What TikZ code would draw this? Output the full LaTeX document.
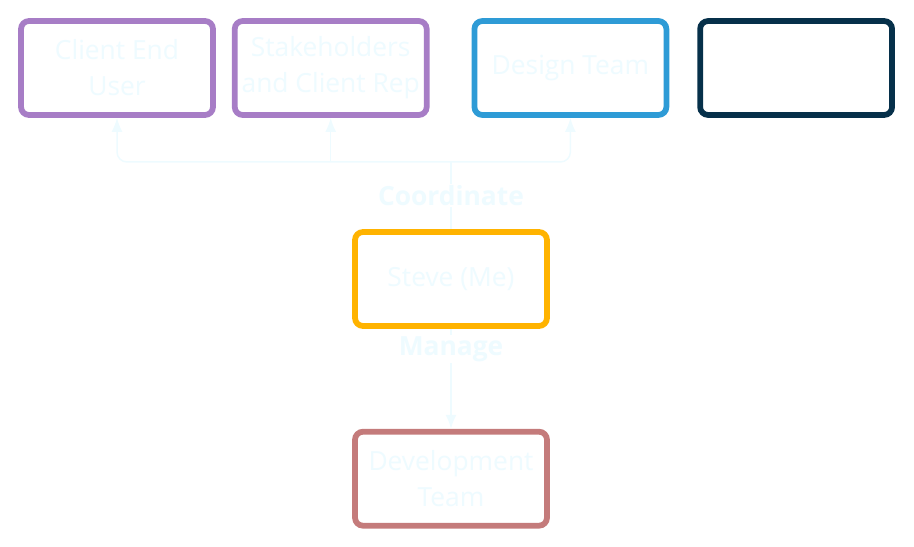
\documentclass[tikz,border=0pt]{standalone}
\usepackage{fontspec}
\setmainfont{Open Sans}
\usetikzlibrary{arrows.meta,positioning}

\definecolor{roleviolet}{HTML}{A77DC6}
\definecolor{roleblue}{HTML}{2E9BD6}
\definecolor{rolenavy}{HTML}{06304A}
\definecolor{roleamber}{HTML}{FFB300}
\definecolor{rolerose}{HTML}{C47B7B}
\definecolor{paleink}{HTML}{EEFBFF}

\begin{document}
\begin{tikzpicture}[
    x=0.02cm, y=-0.02cm,
    node distance=0.32cm,
    every node/.style={font=\fontsize{15}{20.4}\selectfont, text=paleink},
    role/.style={draw, line width=1.15mm, rounded corners=1.6mm, align=center, minimum width=3.84cm, minimum height=1.88cm, inner sep=1pt, fill=white},
    tag/.style={font=\fontsize{15}{20.4}\selectfont\bfseries, fill=white, inner sep=1pt},
    flow/.style={-{Latex[length=2.8mm, width=2.2mm]}, paleink, line width=0.3mm},
    link/.style={paleink, line width=0.3mm}
]
\useasboundingbox (0,0) rectangle (914,547);
\node[role, draw=roleviolet] (client) at (117,68) {Client End\\User};
\node[role, draw=roleviolet, right=of client] (stake) {Stakeholders\\and Client Rep};
\node[role, draw=roleblue, right=0.84cm of stake] (design) {Design Team};
\node[role, draw=rolenavy, right=0.56cm of design] (spare) {};
\node[role, draw=roleamber] (steve) at (451,279) {Steve (Me)};
\node[role, draw=rolerose, below=2.0cm of steve] (dev) {Development\\Team};
\coordinate (hub) at (451,162);
\draw[link] (steve.north) -- node[tag]{Coordinate} (hub);
\draw[flow, rounded corners=2mm] (hub) -| (client.south);
\draw[flow] (stake.south |- hub) -- (stake.south);
\draw[flow, rounded corners=2mm] (hub) -| (design.south);
\draw[flow] (steve.south) -- node[tag, pos=0.2]{Manage} (dev.north);
\end{tikzpicture}
\end{document}
